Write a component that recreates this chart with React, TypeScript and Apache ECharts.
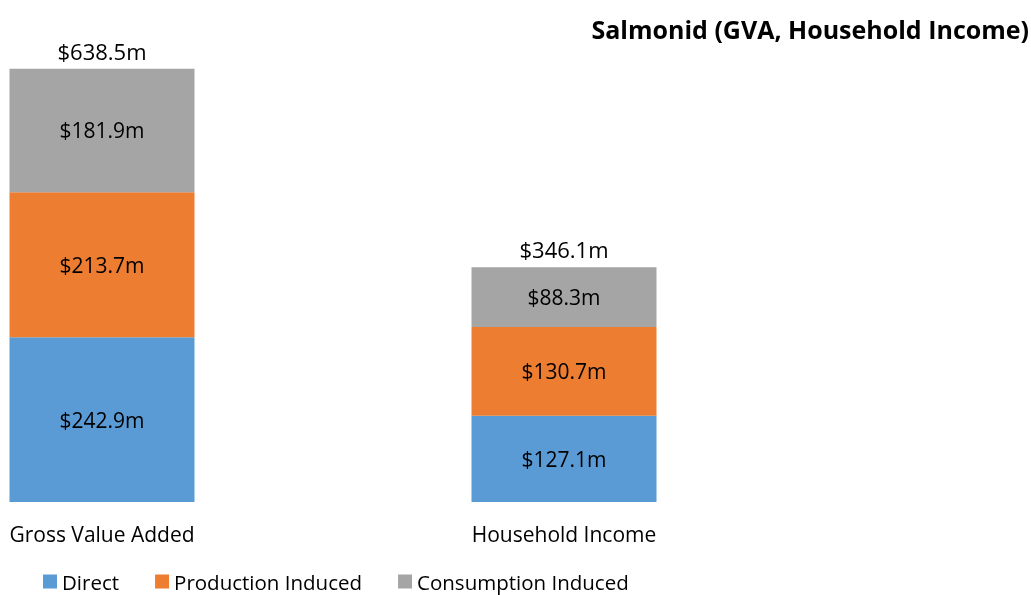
import React, { useEffect, useRef } from "react";
import * as echarts from "echarts";

const categories = ["Gross Value Added", "Household Income"];
const direct = [242.9, 127.1];
const production = [213.7, 130.7];
const consumption = [181.9, 88.3];
const totals = [638.5, 346.1];
const seriesNames = ["Direct", "Production Induced", "Consumption Induced"];
const colors = ["#5B9BD5", "#ED7D31", "#A5A5A5"];

const FONT = "Open Sans";

export default function App() {
  const ref = useRef<HTMLDivElement>(null);
  useEffect(() => {
    if (!ref.current) return;
    const chart = echarts.init(ref.current, undefined, { renderer: "svg" });
    const fmt = (p: any) => "$" + Number(p.value).toFixed(1) + "m";
    const inner = {
      show: true,
      position: "inside",
      color: "#000",
      fontSize: 21,
      fontFamily: FONT,
      formatter: fmt,
    };
    const datasets = [direct, production, consumption];
    chart.setOption({
      animation: false,
      title: {
        text: "Salmonid (GVA, Household Income)",
        right: -3,
        top: 11,
        textStyle: { fontSize: 25, fontWeight: "bold", fontFamily: FONT, color: "#000" },
      },
      legend: {
        data: seriesNames,
        left: 38,
        top: 566,
        itemWidth: 14,
        itemHeight: 14,
        itemGap: 36,
        icon: "rect",
        textStyle: { fontSize: 20.5, fontFamily: FONT, color: "#000" },
      },
      grid: { left: 102, right: 467, top: 27, height: 475 },
      xAxis: {
        type: "category",
        data: categories,
        boundaryGap: false,
        axisLine: { show: false },
        axisTick: { show: false },
        axisLabel: { fontSize: 21, fontFamily: FONT, color: "#000", margin: 21 },
      },
      yAxis: { type: "value", min: 0, max: 700, show: false, splitLine: { show: false } },
      series: [
        ...datasets.map((d, i) => ({
          name: seriesNames[i],
          type: "bar",
          stack: "total",
          barWidth: 185,
          data: d,
          itemStyle: { color: colors[i] },
          label: inner,
        })),
        {
          name: "Total",
          type: "bar",
          barGap: "-100%",
          barWidth: 185,
          data: totals,
          z: 1,
          itemStyle: { color: "rgba(0,0,0,0)" },
          emphasis: { disabled: true },
          label: {
            show: true,
            position: "top",
            distance: 7,
            color: "#000",
            fontSize: 22,
            fontFamily: FONT,
            formatter: fmt,
          },
        },
      ],
    });
    return () => chart.dispose();
  }, []);
  return <div ref={ref} style={{ position: "fixed", left: 0, top: 0, width: 1031, height: 595 }} />;
}
